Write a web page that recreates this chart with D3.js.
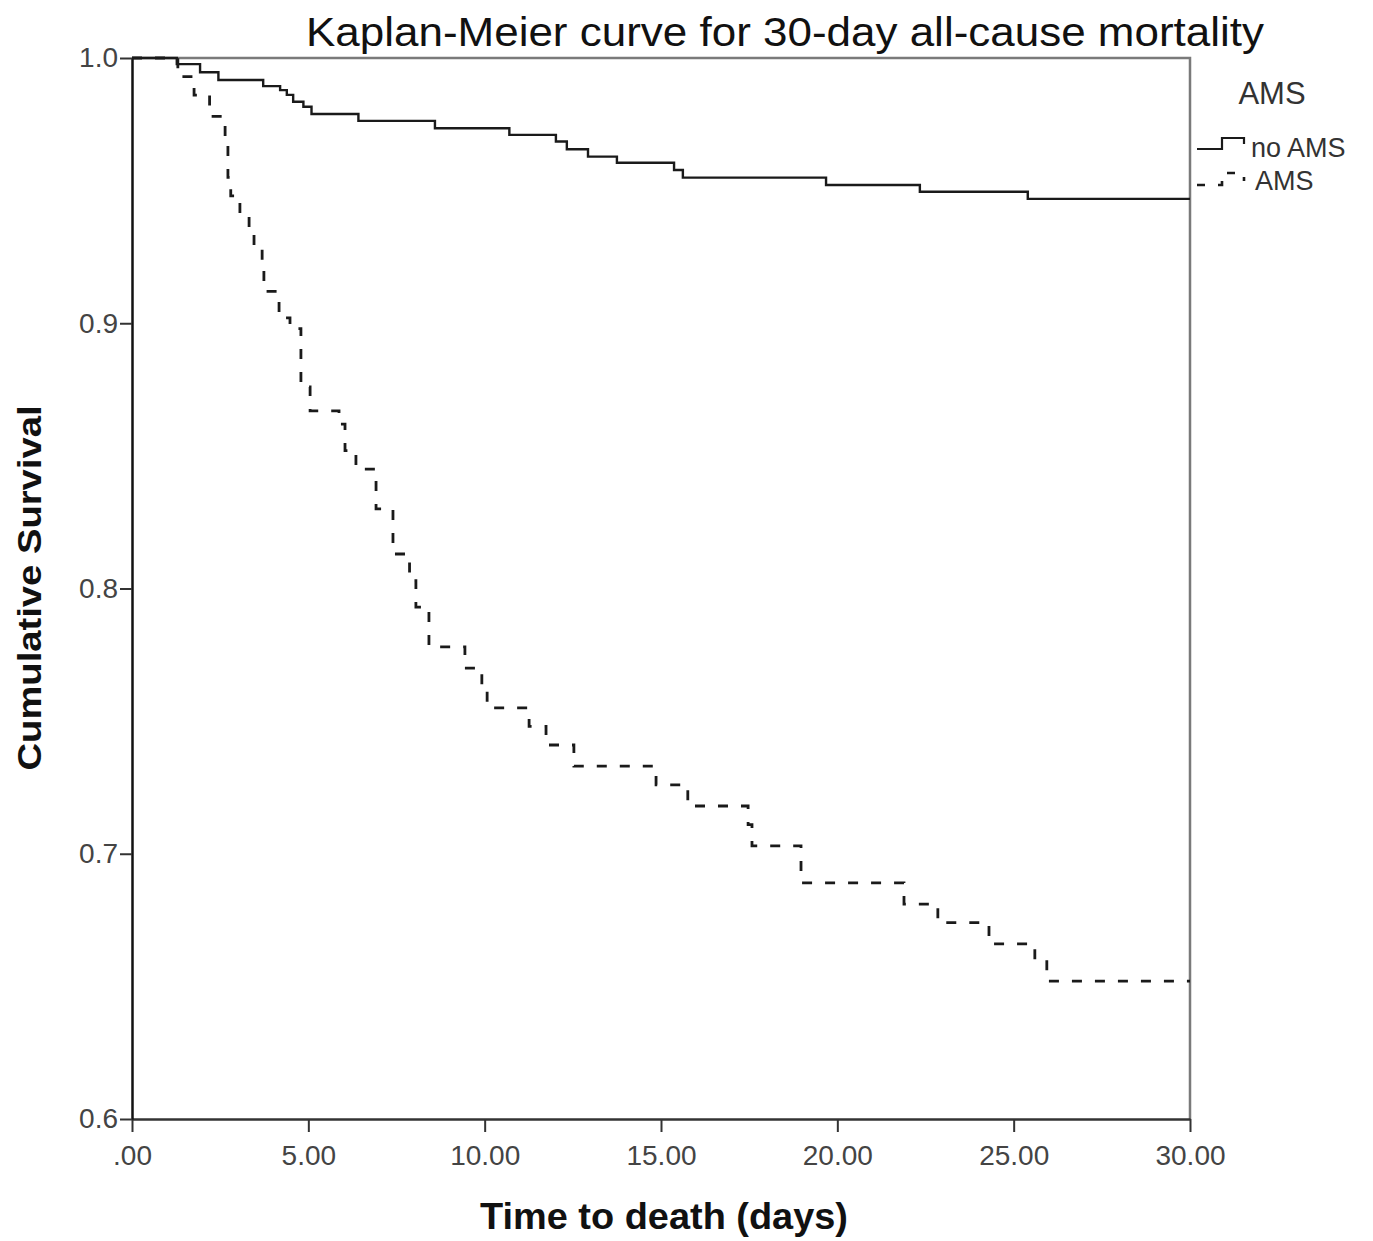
<!DOCTYPE html>
<html>
<head>
<meta charset="utf-8">
<script src="https://d3js.org/d3.v7.min.js"></script>
<style>
  body { margin: 0; background: #fff; }
  text { font-family: "Liberation Sans", Arial, sans-serif; }
</style>
</head>
<body>
<div id="km"></div>
<script>
var width = 1373, height = 1241,
    margin = {top: 58, right: 183, bottom: 122, left: 132};

// Kaplan-Meier step points (time in days, cumulative survival)
var noAmsTime = [0, 1.27, 1.93, 2.45, 3.72, 4.20, 4.39, 4.57, 4.86, 5.09, 6.42, 8.59, 10.70,
                 12.02, 12.33, 12.93, 13.75, 15.37, 15.62, 19.68, 22.34, 25.40, 30];
var noAmsSurv = [1.0, 0.9977, 0.9946, 0.9917, 0.9894, 0.9879, 0.9861, 0.9835, 0.9816, 0.9789, 0.9763, 0.9735, 0.9710,
                 0.9685, 0.9656, 0.9628, 0.9605, 0.9578, 0.9549, 0.9521, 0.9496, 0.9469, 0.9469];

var amsTime = [0, 1.30, 1.76, 2.20, 2.64, 2.72, 2.80, 3.06, 3.32, 3.46, 3.69, 3.74, 4.17, 4.48, 4.79,
               5.05, 5.87, 6.04, 6.35, 6.92, 7.40, 7.87, 8.05, 8.42, 9.44, 9.92, 10.07, 11.26, 11.74,
               12.53, 14.86, 15.76, 17.47, 17.58, 18.97, 21.89, 22.85, 24.30, 25.60, 25.94, 30];
var amsSurv = [1.0, 0.993, 0.986, 0.978, 0.968, 0.955, 0.948, 0.941, 0.934, 0.928, 0.920, 0.912, 0.902, 0.898, 0.876,
               0.867, 0.862, 0.852, 0.845, 0.830, 0.813, 0.803, 0.793, 0.778, 0.770, 0.763, 0.755, 0.748, 0.741,
               0.733, 0.726, 0.718, 0.711, 0.703, 0.689, 0.681, 0.674, 0.666, 0.660, 0.652, 0.652];

var xTicks = [0, 5, 10, 15, 20, 25, 30];
var xTickLabels = [".00", "5.00", "10.00", "15.00", "20.00", "25.00", "30.00"];
var yTicks = [0.6, 0.7, 0.8, 0.9, 1.0];
var yTickLabels = ["0.6", "0.7", "0.8", "0.9", "1.0"];
var groups = ["no AMS", "AMS"];

var svg = d3.select("#km")
  .append("svg")
    .attr("width", width)
    .attr("height", height);

var x = d3.scaleLinear().domain([0, 30]).range([margin.left, width - margin.right]);
var y = d3.scaleLinear().domain([0.6, 1.0]).range([height - margin.bottom, margin.top]);

// frame: grey top and right edges
svg.append("path")
  .attr("d", "M" + x(0) + "," + y(1) + "H" + x(30) + "V" + y(0.6))
  .attr("fill", "none")
  .attr("stroke", "#7a7a7a")
  .attr("stroke-width", 2.5);

// x axis
var xAxis = svg.append("g")
  .attr("transform", "translate(0," + y(0.6) + ")")
  .call(d3.axisBottom(x).tickValues(xTicks)
    .tickFormat(function(d, i) { return xTickLabels[i]; })
    .tickSize(13).tickPadding(13).tickSizeOuter(0));
xAxis.select(".domain").attr("stroke", "#333").attr("stroke-width", 2.5);
xAxis.selectAll(".tick line").attr("stroke", "#333").attr("stroke-width", 2);
xAxis.selectAll(".tick text")
  .attr("fill", "#444")
  .style("font-size", "28px")
  .style("font-family", "Liberation Sans, Arial, sans-serif");

// y axis
var yAxis = svg.append("g")
  .attr("transform", "translate(" + x(0) + ",0)")
  .call(d3.axisLeft(y).tickValues(yTicks)
    .tickFormat(function(d, i) { return yTickLabels[i]; })
    .tickSize(12).tickPadding(2).tickSizeOuter(0));
yAxis.select(".domain").attr("stroke", "#111").attr("stroke-width", 2.5);
yAxis.selectAll(".tick line").attr("stroke", "#333").attr("stroke-width", 2);
yAxis.selectAll(".tick text")
  .attr("fill", "#444")
  .style("font-size", "28px")
  .style("font-family", "Liberation Sans, Arial, sans-serif");

// curves
var line = d3.line()
  .x(function(d) { return x(d[0]); })
  .y(function(d) { return y(d[1]); })
  .curve(d3.curveStepAfter);

var noAms = noAmsTime.map(function(t, i) { return [t, noAmsSurv[i]]; });
var ams = amsTime.map(function(t, i) { return [t, amsSurv[i]]; });

svg.append("path")
  .datum(noAms)
  .attr("d", line)
  .attr("fill", "none")
  .attr("stroke", "#1a1a1a")
  .attr("stroke-width", 2.4);

svg.append("path")
  .datum(ams)
  .attr("d", line)
  .attr("fill", "none")
  .attr("stroke", "#1a1a1a")
  .attr("stroke-width", 2.8)
  .attr("stroke-dasharray", "10,13");

// title
svg.append("text")
  .attr("x", 785)
  .attr("y", 46)
  .attr("text-anchor", "middle")
  .attr("textLength", 958)
  .attr("lengthAdjust", "spacingAndGlyphs")
  .attr("fill", "#111")
  .style("font-size", "41px")
  .text("Kaplan-Meier curve for 30-day all-cause mortality");

// axis titles
svg.append("text")
  .attr("x", 664)
  .attr("y", 1229)
  .attr("text-anchor", "middle")
  .attr("textLength", 368)
  .attr("lengthAdjust", "spacingAndGlyphs")
  .attr("fill", "#111")
  .style("font-size", "36px")
  .style("font-weight", "bold")
  .text("Time to death (days)");

svg.append("text")
  .attr("transform", "translate(41,588) rotate(-90)")
  .attr("text-anchor", "middle")
  .attr("textLength", 365)
  .attr("lengthAdjust", "spacingAndGlyphs")
  .attr("fill", "#111")
  .style("font-size", "34px")
  .style("font-weight", "bold")
  .text("Cumulative Survival");

// legend
var legend = svg.append("g");

legend.append("text")
  .attr("x", 1272)
  .attr("y", 104)
  .attr("text-anchor", "middle")
  .attr("fill", "#333")
  .style("font-size", "31px")
  .text("AMS");

legend.append("path")
  .attr("d", "M1197,149H1222V138H1244V144")
  .attr("fill", "none")
  .attr("stroke", "#1a1a1a")
  .attr("stroke-width", 2.2);

legend.append("path")
  .attr("d", "M1197,185H1222V173H1244V181")
  .attr("fill", "none")
  .attr("stroke", "#1a1a1a")
  .attr("stroke-width", 2.6)
  .attr("stroke-dasharray", "8,13");

legend.selectAll(".entry")
  .data(groups)
  .enter().append("text")
    .attr("class", "entry")
    .attr("x", function(d, i) { return i == 0 ? 1251 : 1255; })
    .attr("y", function(d, i) { return i == 0 ? 157 : 190; })
    .attr("fill", "#333")
    .style("font-size", "27px")
    .text(function(d) { return d; });
</script>
</body>
</html>
